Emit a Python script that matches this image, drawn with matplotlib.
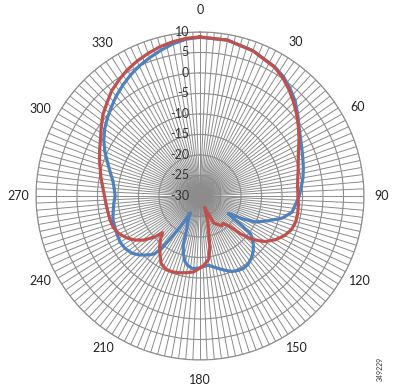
import numpy as np
import matplotlib.pyplot as plt
from matplotlib import transforms

plt.rcParams['font.family'] = ['Lato', 'DejaVu Sans']

# radiation pattern, angle in degrees (clockwise from top), gain in dB
red_deg = [0, 10, 20, 30, 35, 40, 45, 50, 55, 60, 65, 70, 75, 80, 85, 90, 95, 100, 105, 110,
           115, 120, 125, 130, 133, 136, 140, 144, 148, 153, 158, 163, 166, 169, 172, 176, 180,
           185, 190, 195, 200, 205, 210, 214, 218, 222, 225.5, 228, 232, 236, 240, 245, 250, 255,
           260, 265, 270, 275, 280, 285, 290, 295, 300, 305, 310, 315, 320, 325, 330, 335, 340,
           345, 350, 355]
red_db = [8.8, 8.6, 7.7, 6.3, 5.2, 3.8, 2.3, 0.8, -0.7, -2.1, -3.5, -4.5, -5.2, -5.8, -6.1, -6.1,
          -5.9, -5.8, -5.8, -6.2, -7.2, -8.7, -10.6, -13.5, -16.5, -19.8, -21.3, -21.0, -21.8,
          -22.6, -27.0, -23.5, -21.5, -17.4, -14.5, -13.3, -12.4, -11.4, -11.0, -10.6, -10.3,
          -10.3, -11.0, -12.6, -14.0, -15.5, -17.2, -15.0, -12.5, -10.8, -9.5, -8.2, -7.5, -7.3,
          -7.2, -7.0, -6.7, -6.2, -5.5, -4.8, -3.9, -3.0, -2.0, -0.6, 0.9, 2.1, 3.5, 4.5, 5.5,
          6.3, 7.0, 7.7, 8.2, 8.6]

blue_deg = [0, 10, 20, 30, 35, 40, 45, 50, 55, 60, 65, 70, 75, 80, 85, 90, 95, 100, 105, 110,
            115, 118, 121.5, 124, 125, 127, 132, 136, 140, 145, 149, 153, 157, 161, 166, 170,
            173, 177, 181, 186, 190, 193, 196, 199, 202, 206, 210, 212, 214, 216, 218, 220, 223,
            226, 230, 235, 240, 245, 250, 255, 260, 265, 270, 275, 280, 285, 290, 295, 300, 305,
            310, 315, 320, 325, 330, 335, 340, 345, 350, 355]
blue_db = [8.7, 8.6, 7.7, 6.4, 5.5, 4.2, 2.8, 1.1, -0.5, -1.7, -2.6, -3.3, -3.9, -4.5, -5.2, -5.8,
           -6.6, -7.2, -9.2, -12.3, -15.0, -18.0, -21.9, -20.2, -17.6, -14.5, -12.5, -11.3, -10.4,
           -9.6, -9.4, -9.6, -10.0, -10.8, -11.8, -12.5, -13.0, -12.8, -12.4, -12.2, -12.8, -13.6,
           -15.3, -17.4, -21.5, -23.3, -25.3, -22.0, -19.0, -14.5, -12.2, -11.3, -10.3, -9.3,
           -8.3, -7.7, -7.5, -7.7, -7.9, -8.0, -8.5, -8.9, -9.3, -9.0, -8.4, -7.3, -6.0, -4.4,
           -2.9, -1.6, -0.5, 0.6, 1.8, 2.9, 4.0, 5.0, 5.9, 6.8, 7.7, 8.4]

ring_vals = list(range(-30, 11, 5))
angle_labels = ['0', '30', '60', '90', '120', '150', '180', '210', '240', '270', '300', '330']

grid_col = '#8c8c8c'

fig = plt.figure(figsize=(3.93, 3.88), dpi=100)
ax = fig.add_axes([0.0916, 0.0722, 0.8346, 0.8454], projection='polar')
ax.set_theta_zero_location('N')
ax.set_theta_direction(-1)
ax.set_rlim(-30, 10)

# rings
ax.set_rticks(ring_vals)
ax.set_yticklabels([])
ax.yaxis.grid(True, color=grid_col, linewidth=0.8)

# spokes every 2.5 deg
spokes = np.arange(0, 360, 2.5)
ax.set_xticks(np.deg2rad(spokes))
ax.set_xticklabels([])
ax.xaxis.grid(True, color=grid_col, linewidth=0.7)
ax.tick_params(axis='x', direction='out', length=5, width=0.7, color=grid_col)
ax.spines['polar'].set_color(grid_col)
ax.spines['polar'].set_linewidth(0.8)

# category labels, placed the way Excel does (slightly pushed off the 30-deg spokes)
lab_theta = [0, 32, 60.5, 90, 118, 147.5, 180, 212.5, 242, 270, 298.5, 327.5]
lab_r = [15.4, 14.2, 14.2, 14.3, 14.2, 14.0, 14.9, 14.0, 14.2, 14.3, 14.4, 14.2]
for t, r, s in zip(lab_theta, lab_r, angle_labels):
    ax.text(np.deg2rad(t), r, s, ha='center', va='center', fontsize=9, color='#222222', clip_on=False)

# value labels left of the 0 deg spoke
off = transforms.offset_copy(ax.transData, fig=fig, x=-11, y=0, units='dots')
for v in ring_vals:
    ax.text(0, v, str(v), transform=off, ha='right', va='center', fontsize=9, color='#333333')

ax.plot(np.deg2rad(blue_deg + [360]), blue_db + [blue_db[0]], color='#4F81BD', lw=2.3)
ax.plot(np.deg2rad(red_deg + [360]), red_db + [red_db[0]], color='#C0504D', lw=2.3)

fig.text(0.967, 0.049, '349229', rotation=90, fontsize=5, ha='center', va='center', color='#333333')

fig.savefig('out.png', dpi=100)
